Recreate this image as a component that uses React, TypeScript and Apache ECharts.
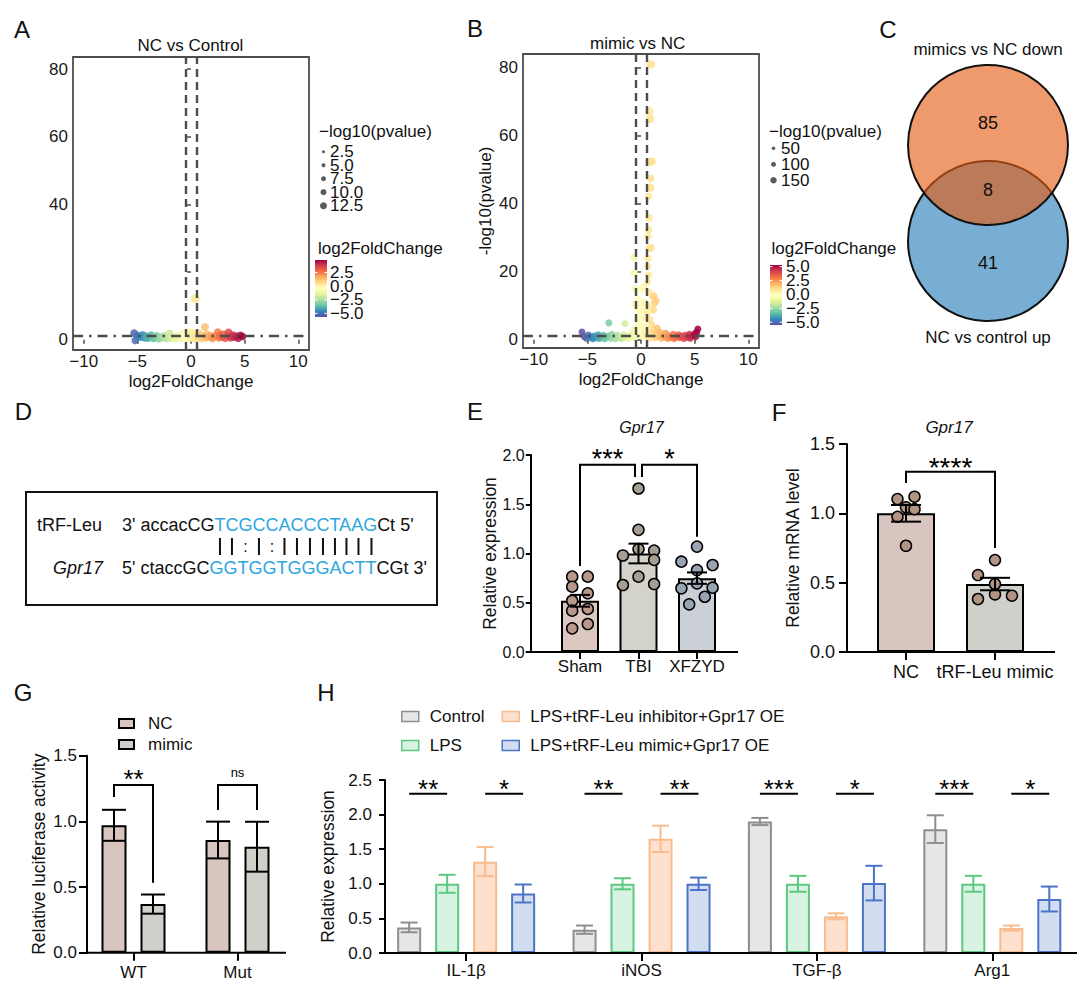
import React, { useEffect, useRef } from "react";
import * as echarts from "echarts";

const FONT = "'Liberation Sans', Arial, Helvetica, sans-serif";
const SPECTRAL = ["#5E4FA2", "#3288BD", "#66C2A5", "#ABDDA4", "#E6F598", "#FFFFBF", "#FEE08B", "#FDAE61", "#F46D43", "#D53E4F", "#9E0142"];

// ---------- A / B : volcano data  [log2FoldChange, -log10(pvalue)]
const volcanoA: number[][] = [
  [-5.3, 2.0], [-5.2, -0.2], [-5.0, 1.3], [-4.8, 1.0], [-4.6, 0.8], [-4.5, 1.5], [-4.3, 0.6], [-4.1, 1.1], [-4.0, 0.5], [-3.8, 0.9],
  [-3.7, 1.4], [-3.5, 0.4], [-3.4, 0.8], [-3.2, 1.2], [-3.0, 0.3], [-2.9, 0.9], [-2.7, 0.6], [-2.5, 1.1], [-2.3, 0.4], [-2.2, 0.8],
  [-2.0, 1.9], [-1.9, 0.5], [-1.7, 1.0], [-1.5, 0.3], [-1.4, 0.8], [-1.2, 1.2], [-1.0, 0.5], [-0.9, 0.9], [-0.7, 2.0], [-0.6, 0.3],
  [-0.5, 1.5], [-0.4, 0.7], [-0.3, 2.4], [-0.2, 0.4], [-0.1, 1.6], [0.0, 0.9], [0.1, 2.2], [0.2, 0.5], [0.3, 1.8], [0.4, 0.3],
  [0.4, 12.2], [0.5, 1.2], [0.6, 0.6], [0.7, 2.0], [0.8, 0.9], [0.9, 1.5], [1.0, 0.4], [1.3, 3.8], [1.2, 1.0], [1.4, 0.6],
  [1.5, 1.6], [1.7, 0.8], [1.9, 1.2], [2.0, 0.4], [2.2, 1.0], [2.5, 2.3], [2.6, 0.6], [2.7, 1.3], [2.9, 0.8], [3.0, 1.6],
  [3.2, 0.5], [3.5, 2.2], [3.5, 1.0], [3.7, 0.6], [3.9, 1.4], [4.0, 0.8], [4.2, 1.1], [4.4, 0.5], [4.6, 1.3], [4.8, 1.0]
];
const volcanoB: number[][] = [
  [-5.5, 2.3], [-5.3, 1.0], [-5.1, 0.5], [-4.9, 1.4], [-4.7, 0.8], [-4.5, 0.3], [-4.4, 1.1], [-4.2, 0.6], [-4.0, 1.5], [-3.9, 0.4],
  [-3.7, 0.9], [-3.5, 1.3], [-3.4, 0.3], [-3.2, 0.8], [-3.0, 5.0], [-3.0, 1.2], [-2.8, 0.5], [-2.7, 1.6], [-2.5, 0.9], [-2.4, 0.3],
  [-2.2, 1.3], [-2.1, 0.6], [-1.9, 1.0], [-1.8, 0.4], [-1.6, 1.4], [-1.5, 4.8], [-1.4, 0.7], [-1.2, 1.1], [-1.1, 0.4], [-0.9, 1.6],
  [-0.8, 0.8], [-0.7, 2.6], [-0.6, 0.5],
  [-0.5, 3.5], [-0.45, 1.2], [-0.4, 6.0], [-0.35, 9.0], [-0.3, 2.5], [-0.25, 12.0], [-0.2, 4.5], [-0.15, 7.5], [-0.1, 1.5], [-0.05, 14.5],
  [0.0, 3.0], [0.05, 10.0], [0.1, 6.0], [0.15, 1.0], [0.2, 8.5], [0.25, 15.5], [0.3, 4.0], [0.35, 11.0], [0.4, 2.0], [0.45, 6.5],
  [0.9, 81.1], [0.78, 67.2], [0.85, 65.0], [0.78, 52.3], [1.0, 52.5], [0.88, 47.5], [0.9, 44.8], [0.7, 42.2], [0.75, 35.9], [0.7, 32.4],
  [0.65, 30.4], [0.75, 27.0], [0.95, 27.0], [0.65, 24.0], [-0.65, 24.2], [0.65, 21.6], [-0.62, 19.6], [0.7, 19.0], [0.62, 17.0], [1.05, 12.9],
  [1.2, 12.9], [1.25, 10.8], [1.15, 8.8], [1.4, 11.5], [0.75, 14.0], [0.7, 10.0], [-0.6, 10.5], [-0.55, 15.0], [0.6, 8.0], [0.8, 6.0],
  [0.6, 1.0], [0.7, 3.0], [0.8, 0.5], [0.9, 2.0], [1.0, 4.5], [1.1, 1.2], [1.2, 2.8], [1.3, 0.6], [1.4, 1.8], [1.5, 3.5],
  [1.6, 0.9], [1.8, 2.2], [1.9, 0.5], [2.0, 1.4], [2.2, 0.8], [2.3, 1.9], [2.5, 0.4], [2.6, 1.2], [2.8, 0.7], [3.0, 1.6],
  [3.1, 0.4], [3.3, 1.0], [3.5, 1.5], [3.6, 0.6], [3.8, 1.1], [4.0, 0.4], [4.1, 1.3], [4.3, 0.8], [4.5, 1.6], [4.6, 0.5],
  [4.8, 1.2], [5.0, 1.8], [5.1, 0.9], [5.2, 2.2], [5.3, 3.2]
];
const volcanoXTicks = [-10, -5, 0, 5, 10];
const volcanoYTicks = [0, 20, 40, 60, 80];
const volcanoAYLabels = [0, 40, 60, 80];
const fcCutoff = 0.5;
const pCutoff = 1.3;
const sizeLegendA = [2.5, 5.0, 7.5, 10.0, 12.5];
const sizeLegendB = [50, 100, 150];
const colorRangeA = [-5.67, 4.8];
const colorRangeB = [-5.5, 5.3];
const colorTicksA = [2.5, 0, -2.5, -5];
const colorTicksB = [5, 2.5, 0, -2.5, -5];

// ---------- C : Venn
const vennSetNames = ["mimics vs NC down", "NC vs control up"];
const vennCounts = [85, 8, 41];

// ---------- D : sequences
const trfName = "tRF-Leu";
const geneName = "Gpr17";
const trfSeq = ["3' accacCG", "TCGCCACCCTAAG", "Ct 5'"];
const geneSeq = ["5' ctaccGC", "GGTGGTGGGACTT", "CGt 3'"];
const pairing = "||:|:||||||||";

// ---------- E
const eCats = ["Sham", "TBI", "XFZYD"];
const eMean = [0.52, 1.0, 0.75];
const eSem = [0.06, 0.1, 0.058];
const eDots: number[][][] = [
  [[-1, 0.765], [1, 0.765], [-1, 0.663], [1, 0.596], [-1, 0.52], [-1, 0.42], [1, 0.437], [-1, 0.24], [1, 0.284]],
  [[0, 1.66], [0, 1.24], [-2, 0.98], [0, 1.045], [2, 1.03], [2, 0.935], [0, 0.765], [-2, 0.68], [2, 0.69]],
  [[0, 1.07], [-2, 0.917], [2, 0.883], [0, 0.832], [-2, 0.647], [0, 0.697], [2, 0.653], [-1, 0.484], [1, 0.561]]
];
const eBrackets = [
  { fromCat: 0, fromS: 0, toCat: 1, toS: 0, fromY: 0.873, toY: 1.777, top: 1.9, labelY: 2.02, label: "***", fromNudge: 0, toNudge: -3.5 },
  { fromCat: 1, fromS: 0, toCat: 2, toS: 0, fromY: 1.777, toY: 1.17, top: 1.9, labelY: 2.02, label: "*", fromNudge: 3.5, toNudge: 0 }
];

// ---------- F
const fCats = ["NC", "tRF-Leu mimic"];
const fMean = [1.0, 0.49];
const fSem = [0.06, 0.045];
const fDots: number[][][] = [
  [[-1, 1.103], [1, 1.12], [0, 1.043], [1, 1.03], [-1, 0.975], [0, 0.766]],
  [[0, 0.663], [-2, 0.555], [0, 0.49], [-2, 0.382], [0, 0.416], [2, 0.406]]
];
const fBrackets = [
  { fromCat: 0, fromS: 0, toCat: 1, toS: 0, fromY: 1.218, toY: 0.75, top: 1.3, labelY: 1.38, label: "****", fromNudge: 0, toNudge: 0 }
];

// ---------- G
const gCats = ["WT", "Mut"];
const gSeries = ["NC", "mimic"];
const gMean = [[0.97, 0.858], [0.37, 0.807]];
const gErr = [[0.118, 0.14], [0.073, 0.19]];
const gBrackets = [
  { fromCat: 0, fromS: 0, toCat: 0, toS: 1, fromY: 1.186, toY: 0.533, top: 1.277, labelY: 1.37, label: "**", fromNudge: 0, toNudge: 0 },
  { fromCat: 1, fromS: 0, toCat: 1, toS: 1, fromY: 1.087, toY: 1.087, top: 1.277, labelY: 1.37, label: "ns", fromNudge: 0, toNudge: 0 }
];

// ---------- H
const hCats = ["IL-1\u03b2", "iNOS", "TGF-\u03b2", "Arg1"];
const hSeries = ["Control", "LPS", "LPS+tRF-Leu inhibitor+Gpr17 OE", "LPS+tRF-Leu mimic+Gpr17 OE"];
const hMean = [
  [0.37, 0.337, 1.9, 1.79],
  [1.0, 1.0, 1.0, 1.0],
  [1.32, 1.65, 0.53, 0.36],
  [0.86, 1.0, 1.01, 0.78]
];
const hErr = [
  [0.07, 0.06, 0.052, 0.2],
  [0.13, 0.08, 0.115, 0.115],
  [0.21, 0.19, 0.043, 0.037],
  [0.13, 0.09, 0.25, 0.18]
];
const hSigY = 2.3;
const hStarY = 2.45;
const hSig = [
  { cat: 0, a: 0, b: 1, label: "**" }, { cat: 0, a: 2, b: 3, label: "*" },
  { cat: 1, a: 0, b: 1, label: "**" }, { cat: 1, a: 2, b: 3, label: "**" },
  { cat: 2, a: 0, b: 1, label: "***" }, { cat: 2, a: 2, b: 3, label: "*" },
  { cat: 3, a: 0, b: 1, label: "***" }, { cat: 3, a: 2, b: 3, label: "*" }
];

// ---------- styles
const eFill = ["#DCC7C1", "#D3D2CB", "#CBCFD6"];
const eDotFill = ["#B8988A", "#A79E92", "#98A3B3"];
const fFill = ["#D9C5C0", "#D0D0CA"];
const fDotFill = ["#B39383", "#B39383"];
const gFill = ["#D9C5C0", "#D0D0CA"];
const hFill = ["#E6E6E6", "#D8F3E1", "#FDE0CD", "#D3DDF2"];
const hStroke = ["#8E8E8E", "#5CC880", "#F8BC8E", "#4B73C6"];

const minus = (v: number, d = -1) => {
  const s = d >= 0 ? Math.abs(v).toFixed(d) : String(Math.abs(v));
  return v < 0 ? "\u2212" + s : s;
};

function txt(text: string, x: number, y: number, size: number, extra: any = {}) {
  const align = extra.align || "center";
  return {
    type: "text", x, y, silent: true, z: 10,
    style: {
      text, fill: extra.fill || "#111", fontSize: size, fontFamily: FONT,
      fontStyle: extra.italic ? "italic" : "normal",
      align, textAlign: align, verticalAlign: "middle", textVerticalAlign: "middle",
      ...(extra.rich ? { rich: extra.rich } : {})
    }
  };
}

function errRender(offsets: number[], capW: number, colors: string[], lw: number) {
  return (params: any, api: any) => {
    const c = api.value(0), lo = api.value(1), hi = api.value(2), s = api.value(3);
    const pLo = api.coord([c, lo]);
    const pHi = api.coord([c, hi]);
    const x = pLo[0] + offsets[s];
    const stroke = colors[s];
    const st = { stroke, lineWidth: lw, fill: "none" };
    return {
      type: "group",
      children: [
        { type: "line", shape: { x1: x, y1: pLo[1], x2: x, y2: pHi[1] }, style: st },
        { type: "line", shape: { x1: x - capW / 2, y1: pHi[1], x2: x + capW / 2, y2: pHi[1] }, style: st },
        { type: "line", shape: { x1: x - capW / 2, y1: pLo[1], x2: x + capW / 2, y2: pLo[1] }, style: st }
      ]
    };
  };
}

function bracketRender(specs: any[], offsets: number[], starSize: number, nsSize: number) {
  return (params: any, api: any) => {
    const b = specs[params.dataIndex];
    const pA = api.coord([b.fromCat, b.fromY]);
    const pB = api.coord([b.toCat, b.toY]);
    const top = api.coord([b.fromCat, b.top])[1];
    const xa = pA[0] + offsets[b.fromS] + (b.fromNudge || 0);
    const xb = pB[0] + offsets[b.toS] + (b.toNudge || 0);
    const ly = api.coord([b.fromCat, b.labelY])[1];
    const isStar = b.label.indexOf("*") >= 0;
    const fs = isStar ? starSize : nsSize;
    return {
      type: "group",
      children: [
        { type: "polyline", shape: { points: [[xa, pA[1]], [xa, top], [xb, top], [xb, pB[1]]] }, style: { stroke: "#000", lineWidth: 2, fill: "none" } },
        {
          type: "text", x: (xa + xb) / 2, y: ly + (isStar ? fs * 0.23 : 0),
          style: { text: b.label, fill: "#000", fontSize: fs, fontFamily: FONT, align: "center", textAlign: "center", verticalAlign: "middle", textVerticalAlign: "middle" }
        }
      ]
    };
  };
}

function volX(gridIndex: number) {
  return {
    type: "value", gridIndex, min: -11, max: 11,
    axisLine: { show: false }, splitLine: { show: false },
    axisTick: { show: true, length: 4, lineStyle: { color: "#4D4D4D", width: 1.5 }, customValues: volcanoXTicks },
    axisLabel: { fontSize: 17, color: "#1a1a1a", margin: 3, customValues: volcanoXTicks, formatter: (v: number) => minus(v) },
    name: "log2FoldChange", nameLocation: "middle", nameGap: 23, nameTextStyle: { fontSize: 17, color: "#111" }
  };
}
function volY(gridIndex: number, min: number, max: number, labels: number[], name?: string) {
  return {
    type: "value", gridIndex, min, max,
    axisLine: { show: false }, splitLine: { show: false },
    axisTick: { show: true, length: 4, lineStyle: { color: "#4D4D4D", width: 1.5 }, customValues: volcanoYTicks },
    axisLabel: { fontSize: 17, color: "#1a1a1a", margin: 5, customValues: labels },
    ...(name ? { name, nameLocation: "middle", nameGap: 29, nameTextStyle: { fontSize: 17, color: "#111" } } : {})
  };
}
function barY(gridIndex: number, max: number, offset: number, name: string, fs: number, tickLen: number, margin: number, gap: number) {
  return {
    type: "value", gridIndex, min: 0, max, interval: 0.5, offset,
    axisLine: { show: true, lineStyle: { color: "#000", width: 2 } },
    axisTick: { show: true, length: tickLen, lineStyle: { color: "#000", width: 2 } },
    axisLabel: { fontSize: fs, color: "#111", margin, formatter: (v: number) => v.toFixed(1) },
    splitLine: { show: false },
    name, nameLocation: "middle", nameGap: gap, nameTextStyle: { fontSize: 17.5, color: "#111" }
  };
}
function catX(gridIndex: number, data: string[], fs: number, margin: number, tickLen: number) {
  return {
    type: "category", gridIndex, data,
    axisLine: { show: false },
    axisTick: { show: true, alignWithLabel: true, length: tickLen, lineStyle: { color: "#000", width: 2 } },
    axisLabel: { fontSize: fs, color: "#111", margin, interval: 0 },
    splitLine: { show: false }
  };
}

function measure(text: string, size: number) {
  const ctx = document.createElement("canvas").getContext("2d") as CanvasRenderingContext2D;
  ctx.font = `${size}px ${FONT}`;
  return ctx.measureText(text).width;
}

function colorbar(x: number, y: number, w: number, h: number, range: number[], ticks: number[], labelX: number) {
  const stops = SPECTRAL.slice().reverse().map((c, i) => ({ offset: i / (SPECTRAL.length - 1), color: c }));
  const els: any[] = [
    { type: "rect", silent: true, shape: { x, y, width: w, height: h }, style: { fill: new echarts.graphic.LinearGradient(0, 0, 0, 1, stops) } }
  ];
  ticks.forEach((v) => {
    const ty = y + ((range[1] - v) / (range[1] - range[0])) * h;
    els.push({ type: "line", silent: true, shape: { x1: x, y1: ty, x2: x + 2.5, y2: ty }, style: { stroke: "#fff", lineWidth: 1 } });
    els.push({ type: "line", silent: true, shape: { x1: x + w - 2.5, y1: ty, x2: x + w, y2: ty }, style: { stroke: "#fff", lineWidth: 1 } });
    els.push(txt(minus(v, 1), labelX, ty, 17, { align: "left" }));
  });
  return els;
}

function buildOption() {
  // ---- D layout from text metrics
  const seqSize = 18;
  const dX0 = 122;
  const pre = measure(trfSeq[0], seqSize);
  const pairX: number[] = [];
  let acc = dX0 + pre;
  for (let i = 0; i < trfSeq[1].length; i++) {
    const w = measure(trfSeq[1][i], seqSize);
    pairX.push(acc + w / 2);
    acc += w;
  }
  const pairEls: any[] = [];
  pairing.split("").forEach((ch, i) => {
    if (ch === "|") pairEls.push({ type: "line", silent: true, shape: { x1: pairX[i], y1: 538, x2: pairX[i], y2: 555 }, style: { stroke: "#111", lineWidth: 2 } });
    else pairEls.push(txt(":", pairX[i], 546, 16));
  });
  const richSeq = { k: { fill: "#111", fontSize: seqSize, fontFamily: FONT }, b: { fill: "#2EA7E0", fontSize: seqSize, fontFamily: FONT } };

  // size legends
  const sizeA: any[] = [txt("\u2212log10(pvalue)", 319, 131.7, 17, { align: "left" })];
  sizeLegendA.forEach((v, i) => {
    const y = 151.7 + i * 13.5;
    sizeA.push({ type: "circle", silent: true, shape: { cx: 323.5, cy: y, r: (2 + 0.4 * v) / 2 }, style: { fill: "#5a5a5a" } });
    sizeA.push(txt(v.toFixed(1), 330, y, 17, { align: "left" }));
  });
  const sizeB: any[] = [txt("\u2212log10(pvalue)", 769, 131.7, 17, { align: "left" })];
  sizeLegendB.forEach((v, i) => {
    const y = 148.3 + i * 16;
    sizeB.push({ type: "circle", silent: true, shape: { cx: 773.5, cy: y, r: (2 + 0.03 * v) / 2 }, style: { fill: "#5a5a5a" } });
    sizeB.push(txt(String(v), 781, y, 17, { align: "left" }));
  });

  const gOff = [-19.5, 19.5];
  const hOff = [-57, -19, 19, 57];

  const volMark = {
    silent: true, symbol: "none", label: { show: false },
    lineStyle: { color: "#4D4D4D", width: 2.4, type: [8, 5] },
    data: [{ xAxis: -fcCutoff }, { xAxis: fcCutoff }, { yAxis: pCutoff, lineStyle: { type: [10, 6, 2.5, 6], color: "#4D4D4D", width: 2.4 } }]
  };

  const graphic: any[] = [
    // panel letters
    txt("A", 22, 29, 24), txt("B", 475, 28.5, 24), txt("C", 888, 29.5, 24), txt("D", 23.5, 411, 24),
    txt("E", 475, 411, 24), txt("F", 779, 412, 24), txt("G", 23, 692.5, 24), txt("H", 326, 692, 24),
    // titles
    txt("NC vs Control", 190.5, 45.5, 17), txt("mimic vs NC", 637.7, 43.5, 17),
    txt("Gpr17", 641.5, 427, 16, { italic: true }), txt("Gpr17", 949, 427, 17, { italic: true }),
    // volcano legends
    ...sizeA, ...sizeB,
    txt("log2FoldChange", 318, 248, 17, { align: "left" }),
    txt("log2FoldChange", 771.5, 248.3, 17, { align: "left" }),
    ...colorbar(315, 260, 12, 57, colorRangeA, colorTicksA, 330),
    ...colorbar(770, 265, 12, 60, colorRangeB, colorTicksB, 786),
    // Venn
    { type: "circle", silent: true, shape: { cx: 988, cy: 241, r: 80 }, style: { fill: "#78AED3", stroke: "#111", lineWidth: 2 } },
    { type: "circle", silent: true, shape: { cx: 988, cy: 145, r: 80 }, style: { fill: "rgba(229,92,18,0.62)", stroke: "#111", lineWidth: 2 } },
    txt(vennSetNames[0], 988, 49, 17), txt(vennSetNames[1], 988, 337, 17),
    txt(String(vennCounts[0]), 988, 123, 18), txt(String(vennCounts[1]), 988, 190, 18), txt(String(vennCounts[2]), 988, 263, 18),
    // D
    { type: "rect", silent: true, shape: { x: 26, y: 492, width: 411, height: 113 }, style: { fill: "none", stroke: "#111", lineWidth: 2 } },
    txt(trfName, 37, 525, seqSize, { align: "left" }),
    txt(geneName, 53, 568, seqSize, { align: "left", italic: true }),
    txt(`{k|${trfSeq[0]}}{b|${trfSeq[1]}}{k|${trfSeq[2]}}`, dX0, 525, seqSize, { align: "left", rich: richSeq }),
    txt(`{k|${geneSeq[0]}}{b|${geneSeq[1]}}{k|${geneSeq[2]}}`, dX0, 568, seqSize, { align: "left", rich: richSeq }),
    ...pairEls,
    // x axis base lines for bar panels
    { type: "line", silent: true, z: 10, shape: { x1: 530, y1: 652, x2: 738, y2: 652 }, style: { stroke: "#000", lineWidth: 2 } },
    { type: "line", silent: true, z: 10, shape: { x1: 846, y1: 652, x2: 1055, y2: 652 }, style: { stroke: "#000", lineWidth: 2 } },
    { type: "line", silent: true, z: 10, shape: { x1: 86, y1: 952.7, x2: 286, y2: 952.7 }, style: { stroke: "#000", lineWidth: 2 } },
    { type: "line", silent: true, z: 10, shape: { x1: 384, y1: 953, x2: 1077, y2: 953 }, style: { stroke: "#000", lineWidth: 2 } }
  ];

  const series: any[] = [
    // 0 A volcano
    { type: "scatter", xAxisIndex: 0, yAxisIndex: 0, data: volcanoA, silent: true, symbolSize: (v: number[]) => 7.5 + 0.12 * v[1], itemStyle: { opacity: 0.85 }, markLine: volMark },
    // 1 B volcano
    { type: "scatter", xAxisIndex: 1, yAxisIndex: 1, data: volcanoB, silent: true, symbolSize: (v: number[]) => 7 + 0.02 * v[1], itemStyle: { opacity: 0.85 }, markLine: volMark },
    // E
    { type: "bar", name: "E bars", xAxisIndex: 2, yAxisIndex: 2, barWidth: 38, silent: true,
      data: eMean.map((v, i) => ({ value: v, itemStyle: { color: eFill[i] } })), itemStyle: { borderColor: "#000", borderWidth: 2 } },
    { type: "scatter", name: "E dots", xAxisIndex: 2, yAxisIndex: 2, symbolSize: 11, silent: true,
      data: eDots.flatMap((arr, ci) => arr.map(([col, v]) => ({ value: [ci, v], symbolOffset: [col * 7.8, 0], itemStyle: { color: eDotFill[ci] } }))),
      itemStyle: { borderColor: "#000", borderWidth: 1.5, opacity: 1 } },
    { type: "custom", name: "E err", xAxisIndex: 2, yAxisIndex: 2, clip: false, silent: true, z: 5,
      data: eMean.map((m, i) => [i, m - eSem[i], m + eSem[i], 0]), encode: { x: 0, y: [1, 2] }, renderItem: errRender([0], 20, ["#000"], 2) },
    { type: "custom", name: "E sig", xAxisIndex: 2, yAxisIndex: 2, clip: false, silent: true, z: 5,
      data: eBrackets.map((b) => [b.fromCat, b.top]), encode: { x: 0, y: 1 }, renderItem: bracketRender(eBrackets, [0], 27, 12) },
    // F
    { type: "bar", name: "F bars", xAxisIndex: 3, yAxisIndex: 3, barWidth: 58, silent: true,
      data: fMean.map((v, i) => ({ value: v, itemStyle: { color: fFill[i] } })), itemStyle: { borderColor: "#000", borderWidth: 2 } },
    { type: "scatter", name: "F dots", xAxisIndex: 3, yAxisIndex: 3, symbolSize: 11, silent: true,
      data: fDots.flatMap((arr, ci) => arr.map(([col, v]) => ({ value: [ci, v], symbolOffset: [col * 8.5, 0], itemStyle: { color: fDotFill[ci] } }))),
      itemStyle: { borderColor: "#000", borderWidth: 1.5, opacity: 1 } },
    { type: "custom", name: "F err", xAxisIndex: 3, yAxisIndex: 3, clip: false, silent: true, z: 5,
      data: fMean.map((m, i) => [i, m - fSem[i], m + fSem[i], 0]), encode: { x: 0, y: [1, 2] }, renderItem: errRender([0], 30, ["#000"], 2) },
    { type: "custom", name: "F sig", xAxisIndex: 3, yAxisIndex: 3, clip: false, silent: true, z: 5,
      data: fBrackets.map((b) => [b.fromCat, b.top]), encode: { x: 0, y: 1 }, renderItem: bracketRender(fBrackets, [0], 28, 12) },
    // G
    ...gSeries.map((name, s) => ({
      type: "bar", name, xAxisIndex: 4, yAxisIndex: 4, barWidth: 25, barGap: "56%", silent: true,
      data: gMean[s], itemStyle: { color: gFill[s], borderColor: "#000", borderWidth: 2 }
    })),
    { type: "custom", name: "G err", xAxisIndex: 4, yAxisIndex: 4, clip: false, silent: true, z: 5,
      data: gMean.flatMap((arr, s) => arr.map((m, c) => [c, m - gErr[s][c], m + gErr[s][c], s])), encode: { x: 0, y: [1, 2] },
      renderItem: errRender(gOff, 24, ["#000", "#000"], 2) },
    { type: "custom", name: "G sig", xAxisIndex: 4, yAxisIndex: 4, clip: false, silent: true, z: 5,
      data: gBrackets.map((b) => [b.fromCat, b.top]), encode: { x: 0, y: 1 }, renderItem: bracketRender(gBrackets, gOff, 26, 13) },
    // H
    ...hSeries.map((name, s) => ({
      type: "bar", name, xAxisIndex: 5, yAxisIndex: 5, barWidth: 24, barGap: "58.33%", silent: true,
      data: hMean[s], itemStyle: { color: hFill[s], borderColor: hStroke[s], borderWidth: 2 }
    })),
    { type: "custom", name: "H err", xAxisIndex: 5, yAxisIndex: 5, clip: false, silent: true, z: 5,
      data: hMean.flatMap((arr, s) => arr.map((m, c) => [c, m - hErr[s][c], m + hErr[s][c], s])), encode: { x: 0, y: [1, 2] },
      renderItem: errRender(hOff, 17, hStroke, 2) },
    { type: "custom", name: "H sig", xAxisIndex: 5, yAxisIndex: 5, clip: false, silent: true, z: 5,
      data: hSig.map((h) => [h.cat, hSigY]), encode: { x: 0, y: 1 },
      renderItem: bracketRender(hSig.map((h) => ({ fromCat: h.cat, toCat: h.cat, fromS: h.a, toS: h.b, fromY: hSigY, toY: hSigY, top: hSigY, labelY: hStarY, label: h.label })), hOff, 26, 12) }
  ];

  return {
    animation: false,
    backgroundColor: "#fff",
    textStyle: { fontFamily: FONT },
    grid: [
      { left: 73, top: 57, width: 236, height: 293, show: true, borderColor: "#4D4D4D", borderWidth: 1.8, backgroundColor: "transparent" },
      { left: 523, top: 54, width: 236, height: 294, show: true, borderColor: "#4D4D4D", borderWidth: 1.8, backgroundColor: "transparent" },
      { left: 550.75, top: 455, width: 175.5, height: 197 },
      { left: 861.5, top: 444, width: 178, height: 208 },
      { left: 81.5, top: 755.7, width: 208, height: 197 },
      { left: 378.45, top: 780, width: 703.6, height: 173 }
    ],
    xAxis: [
      volX(0), volX(1),
      catX(2, eCats, 17, 6, 7),
      catX(3, fCats, 18, 11, 8),
      catX(4, gCats, 17, 11, 8),
      catX(5, hCats, 17, 9, 8)
    ],
    yAxis: [
      volY(0, -3, 83.6, volcanoAYLabels),
      volY(1, -2.4, 84.1, volcanoYTicks, "-log10(pvalue)"),
      barY(2, 2, 20, "Relative expression", 16, 5, 6, 30),
      barY(3, 1.5, 14.5, "Relative mRNA level", 18, 8, 12, 45),
      barY(4, 1.5, -5.5, "Relative luciferase activity", 17, 8, 10, 39),
      barY(5, 2.5, -6.55, "Relative expression", 17, 6, 13, 44)
    ],
    visualMap: [
      { type: "continuous", show: false, seriesIndex: 0, dimension: 0, min: colorRangeA[0], max: colorRangeA[1], inRange: { color: SPECTRAL } },
      { type: "continuous", show: false, seriesIndex: 1, dimension: 0, min: colorRangeB[0], max: colorRangeB[1], inRange: { color: SPECTRAL } }
    ],
    legend: [
      { data: gSeries, orient: "vertical", left: 113, top: 710, itemWidth: 15, itemHeight: 9, itemGap: 4, icon: "rect", selectedMode: false,
        itemStyle: { borderWidth: 2, borderColor: "#000" }, textStyle: { fontSize: 17, color: "#111", padding: [0, 0, 0, 9] } },
      { data: [hSeries[0], hSeries[1]], orient: "vertical", left: 396, top: 703, itemWidth: 17, itemHeight: 10, itemGap: 12, icon: "rect", selectedMode: false,
        itemStyle: { borderWidth: 1.5 }, textStyle: { fontSize: 17, color: "#111", padding: [0, 0, 0, 6] } },
      { data: [hSeries[2], hSeries[3]], orient: "vertical", left: 496.5, top: 703, itemWidth: 17, itemHeight: 10, itemGap: 12, icon: "rect", selectedMode: false,
        itemStyle: { borderWidth: 1.5 }, textStyle: { fontSize: 17, color: "#111", padding: [0, 0, 0, 6] } }
    ],
    graphic,
    series
  };
}

export default function App() {
  const ref = useRef<HTMLDivElement>(null);
  useEffect(() => {
    const chart = echarts.init(ref.current as HTMLDivElement, null, { renderer: "svg" });
    chart.setOption(buildOption() as any);
    return () => chart.dispose();
  }, []);
  return <div ref={ref} style={{ position: "fixed", left: 0, top: 0, width: 1080, height: 1000, background: "#fff" }} />;
}
